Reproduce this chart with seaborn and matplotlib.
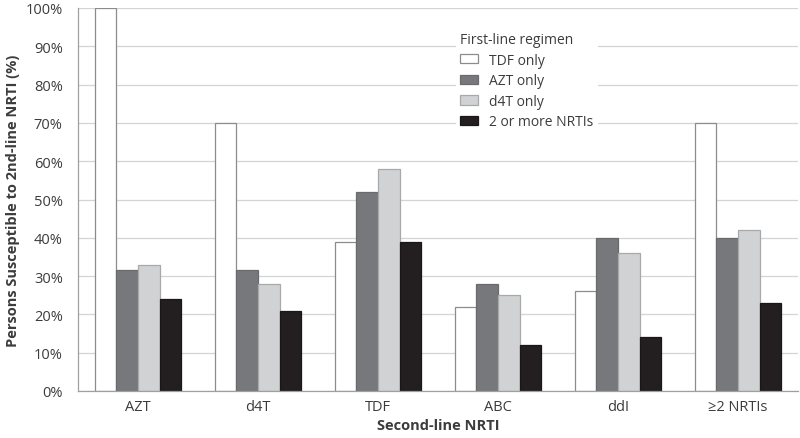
import matplotlib
matplotlib.use("Agg")
import matplotlib.pyplot as plt
import seaborn as sns
import pandas as pd

categories = ["AZT", "d4T", "TDF", "ABC", "ddI", "\u22652 NRTIs"]
regimens = ["TDF only", "AZT only", "d4T only", "2 or more NRTIs"]
tdf_only = [100, 70, 39, 22, 26, 70]
azt_only = [31.5, 31.5, 52, 28, 40, 40]
d4t_only = [33, 28, 58, 25, 36, 42]
two_or_more = [24, 21, 39, 12, 14, 23]
yticks = [0, 10, 20, 30, 40, 50, 60, 70, 80, 90, 100]
colors = ["#ffffff", "#77787b", "#d1d2d4", "#231f20"]
edges = ["#8c8c8c", "#6a6a6d", "#a8a9ab", "#1a1718"]

rows = []
for reg, vals in zip(regimens, [tdf_only, azt_only, d4t_only, two_or_more]):
    for c, v in zip(categories, vals):
        rows.append({"Second-line NRTI": c, "First-line regimen": reg, "value": v})
df = pd.DataFrame(rows)

sns.set_style("white")
plt.rcParams["font.family"] = ["Open Sans", "DejaVu Sans"]
textc = "#3c3c3c"

fig = plt.figure(figsize=(8, 4.39), dpi=100)
ax = fig.add_axes([78 / 800, 47 / 439, 720 / 800, 383 / 439])
sns.barplot(data=df, x="Second-line NRTI", y="value", hue="First-line regimen",
            hue_order=regimens, order=categories, palette=colors,
            width=0.72, gap=0, ax=ax, linewidth=0.9, saturation=1)

for cont, ec in zip(ax.containers, edges):
    for p in cont:
        p.set_edgecolor(ec)

ax.set_xlim(-0.5, 5.5)
ax.set_ylim(0, 100)
ax.set_yticks(yticks)
ax.set_yticklabels([f"{t}%" for t in yticks], color=textc, fontsize=10.5)
ax.set_xticks(range(len(categories)))
ax.set_xticklabels(categories, color=textc, fontsize=10.5)
ax.tick_params(axis="y", length=0, pad=11)
ax.tick_params(axis="x", length=0, pad=6)
ax.grid(axis="y", color="#d4d4d4", linewidth=0.9)
ax.set_axisbelow(True)
for s in ["top", "right"]:
    ax.spines[s].set_visible(False)
for s in ["left", "bottom"]:
    ax.spines[s].set_color("#a0a0a0")
    ax.spines[s].set_linewidth(0.9)

ax.set_xlabel("Second-line NRTI", fontsize=10.5, fontweight="bold", color=textc, labelpad=3)
ax.set_ylabel("Persons Susceptible to 2nd-line NRTI (%)", fontsize=10.5, fontweight="bold",
              color=textc, labelpad=4)

handles, labels = ax.get_legend_handles_labels()
for h, ec in zip(handles, edges):
    h.set_edgecolor(ec)
leg = ax.legend(handles, labels, title="First-line regimen", loc="upper left",
                bbox_to_anchor=(449 / 800, 1 - 22 / 439), bbox_transform=fig.transFigure,
                frameon=True, facecolor="white", edgecolor="none", framealpha=1,
                fontsize=10, title_fontsize=10, handlelength=1.3, handleheight=0.65,
                handletextpad=0.8, labelspacing=0.4, borderpad=0.3, fancybox=False)
leg._legend_box.align = "left"
for t in leg.get_texts():
    t.set_color(textc)
leg.get_title().set_color(textc)

fig.savefig("out.png", dpi=100)
